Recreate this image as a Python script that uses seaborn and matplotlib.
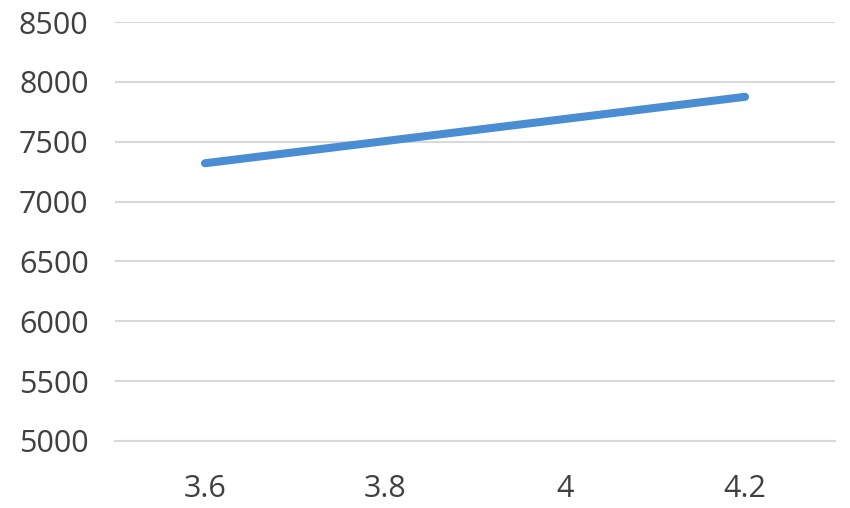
import pandas as pd
import matplotlib.pyplot as plt
import seaborn as sns

# data
x_labels = ["3.6", "3.8", "4", "4.2"]
values = [7320, 7505, 7690, 7875]
y_ticks = [5000, 5500, 6000, 6500, 7000, 7500, 8000, 8500]

df = pd.DataFrame({"x": x_labels, "y": values})

sns.set_theme(style="white")
plt.rcParams['font.family'] = ['Open Sans', 'DejaVu Sans']

fig = plt.figure(figsize=(8.5, 5.08), dpi=100)
ax = fig.add_axes([115 / 850, 1 - 441 / 508, 720 / 850, (441 - 22) / 508])

sns.lineplot(data=df, x="x", y="y", ax=ax, color="#4a8dd2", linewidth=5.8,
             solid_capstyle="round", sort=False)

ax.set_xlim(-0.5, len(x_labels) - 0.5)
ax.set_ylim(5000, 8500)
ax.set_yticks(y_ticks)
ax.set_yticklabels([str(v) for v in y_ticks])
ax.yaxis.grid(True, color="#d9d9d9", linewidth=1.5)
ax.set_axisbelow(True)
for s in ["top", "right", "left"]:
    ax.spines[s].set_visible(False)
ax.spines["bottom"].set_color("#d9d9d9")
ax.spines["bottom"].set_linewidth(1.5)
ax.tick_params(axis="y", length=0, pad=19, labelsize=22, labelcolor="#404040")
ax.tick_params(axis="x", length=0, pad=24, labelsize=22, labelcolor="#404040")
ax.set_xlabel("")
ax.set_ylabel("")

fig.savefig("out.png", dpi=100)
